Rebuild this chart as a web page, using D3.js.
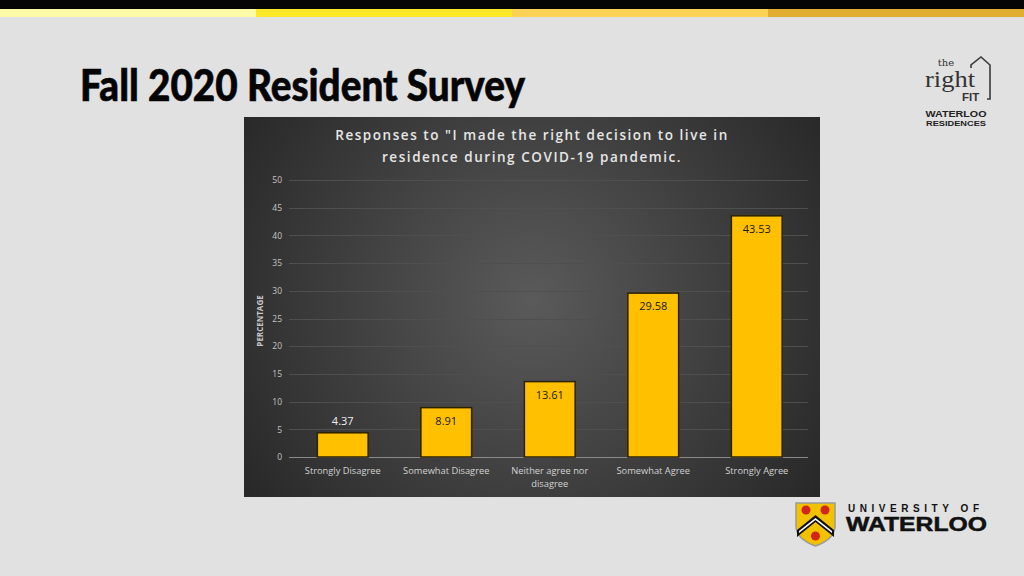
<!DOCTYPE html>
<html><head><meta charset="utf-8">
<script src="https://cdn.jsdelivr.net/npm/d3@7"></script>
<style>html,body{margin:0;padding:0;background:#e1e1e1;}svg{display:block;}</style>
</head><body>
<svg id="c" width="1024" height="576"></svg>
<script>
const categories = ["Strongly Disagree","Somewhat Disagree","Neither agree nor disagree","Somewhat Agree","Strongly Agree"];
const values = [4.37, 8.91, 13.61, 29.58, 43.53];
const yTicks = [0,5,10,15,20,25,30,35,40,45,50];
const chartTitle = ['Responses to "I made the right decision to live in','residence during COVID-19 pandemic.'];

const svg = d3.select("#c");
svg.append("rect").attr("width",1024).attr("height",576).attr("fill","#e1e1e1");
// top band
svg.append("rect").attr("x",0).attr("y",0).attr("width",1024).attr("height",9).attr("fill","#050505");
const stripCols = ["#fdfaa8","#fde829","#fdd155","#e2ae31"];
stripCols.forEach((c,i)=>svg.append("rect").attr("x",i*256).attr("y",9).attr("width",256).attr("height",8).attr("fill",c));

// main title
svg.append("text").attr("x",80).attr("y",101).attr("font-family","Lato,'DejaVu Sans',sans-serif")
  .attr("font-weight",900).attr("font-size",43).attr("fill","#050505").attr("stroke","#050505").attr("stroke-width",0.6)
  .attr("textLength",445).attr("lengthAdjust","spacingAndGlyphs").text("Fall 2020 Resident Survey");

// chart panel
const defs = svg.append("defs");
const rg = defs.append("radialGradient").attr("id","bg").attr("gradientUnits","userSpaceOnUse")
  .attr("cx",532).attr("cy",300).attr("r",360);
rg.append("stop").attr("offset","0%").attr("stop-color","#5a5a5a");
rg.append("stop").attr("offset","100%").attr("stop-color","#262626");
svg.append("rect").attr("x",244).attr("y",117).attr("width",576).attr("height",380).attr("fill","url(#bg)");

const x = d3.scaleBand().domain(categories).range([291,808.5]).paddingInner(0.5).paddingOuter(0.25);
const y = d3.scaleLinear().domain([0,50]).range([457,180]);

// title
const tt = svg.append("text").attr("text-anchor","middle").attr("font-family","'Open Sans',sans-serif")
  .attr("font-size",13.5).attr("font-weight",600).attr("fill","#e6e6e6").attr("letter-spacing",1.55);
chartTitle.forEach((l,i)=>tt.append("tspan").attr("x",532).attr("y",140+i*22).text(l));

// grid
const g = svg.append("g");
g.selectAll("line.grid").data(yTicks).join("line").attr("class","grid")
  .attr("x1",289).attr("x2",808).attr("y1",d=>Math.round(y(d))+0.5).attr("y2",d=>Math.round(y(d))+0.5)
  .attr("stroke",d=>d===0?"#8a8a8a":"#4f4f4f").attr("stroke-width",1);

const yAxis = d3.axisLeft(y).tickValues(yTicks).tickSize(0).tickPadding(0);
const ya = svg.append("g").attr("transform","translate(282,0)").call(yAxis);
ya.select(".domain").remove();
ya.selectAll("text").attr("font-family","'Open Sans',sans-serif").attr("font-size",8.5).attr("fill","#c4c4c4");

// y label
svg.append("text").attr("transform","translate(263,321) rotate(-90)").attr("text-anchor","middle")
  .attr("font-family","'Open Sans',sans-serif").attr("font-weight",700).attr("font-size",8).attr("fill","#c8c8c8")
  .text("PERCENTAGE");

// bars
svg.selectAll("rect.bar").data(values).join("rect").attr("class","bar")
  .attr("x",(d,i)=>x(categories[i])+0.5).attr("width",x.bandwidth()-1)
  .attr("y",d=>y(d)).attr("height",d=>y(0)-y(d))
  .attr("fill","#ffc000").attr("stroke","#2b2200").attr("stroke-width",1.5);

// labels
svg.selectAll("text.lbl").data(values).join("text").attr("class","lbl")
  .attr("x",(d,i)=>x(categories[i])+x.bandwidth()/2)
  .attr("y",d=>d<6? y(d)-8 : y(d)+17)
  .attr("text-anchor","middle").attr("font-family","'Open Sans',sans-serif").attr("font-size",11)
  .attr("fill",d=>d<6?"#f0f0f0":"#1a1a1a").text(d=>d.toFixed(2));

// x axis labels
const xAxis = d3.axisBottom(x).tickSize(0).tickPadding(0);
const xa = svg.append("g").attr("transform","translate(0,457)").call(xAxis);
xa.select(".domain").remove();
xa.selectAll("text").attr("font-family","'Open Sans',sans-serif").attr("font-size",9.3).attr("fill","#d2d2d2")
  .each(function(d){
    const t = d3.select(this); t.text(null);
    const lines = d==="Neither agree nor disagree" ? ["Neither agree nor","disagree"] : [d];
    lines.forEach((l,i)=>t.append("tspan").attr("x",0).attr("y",17+i*13).text(l));
  }).attr("dy",null);

// The Right Fit logo
const lg = svg.append("g");
lg.append("path").attr("d","M971,68 L971,65 L981,57 L990,65 L990,99 L987,99").attr("fill","none").attr("stroke","#3a3a3a").attr("stroke-width",1.6);
lg.append("text").attr("x",946).attr("y",66).attr("text-anchor","middle").attr("font-family","'DejaVu Serif','Liberation Serif',serif").attr("font-size",10).attr("fill","#333").text("the");
lg.append("text").attr("x",925).attr("y",87).attr("font-family","'Liberation Serif','DejaVu Serif',serif").attr("font-size",23).attr("fill","#333").attr("textLength",50).attr("lengthAdjust","spacingAndGlyphs").text("right");
lg.append("text").attr("x",962).attr("y",101).attr("font-family","'Liberation Sans',sans-serif").attr("font-weight","bold").attr("font-size",11.5).attr("fill","#333").text("FIT");
lg.append("text").attr("x",956).attr("y",117).attr("text-anchor","middle").attr("font-family","'Liberation Sans',sans-serif").attr("font-weight","bold").attr("font-size",8.5).attr("fill","#222").attr("textLength",61).attr("lengthAdjust","spacingAndGlyphs").text("WATERLOO");
lg.append("text").attr("x",956).attr("y",126).attr("text-anchor","middle").attr("font-family","'Liberation Sans',sans-serif").attr("font-weight","bold").attr("font-size",7.5).attr("fill","#222").attr("textLength",60).attr("lengthAdjust","spacingAndGlyphs").text("RESIDENCES");

// UW logo
const uw = svg.append("g");
uw.append("path").attr("d","M796,503 L835,503 L835,526 Q835,539 815.5,546 Q796,539 796,526 Z").attr("fill","#f2c200").attr("stroke","#9a9a9a").attr("stroke-width",1.5);
uw.append("path").attr("d","M797,530 L815.5,515 L834,530 L834,537 L815.5,522 L797,537 Z").attr("fill","#111");
uw.append("path").attr("d","M799,531 L815.5,518 L832,531 L832,533 L815.5,520 L799,533 Z").attr("fill","#fff");
[[806,510],[825,510],[815.5,536]].forEach(p=>uw.append("circle").attr("cx",p[0]).attr("cy",p[1]).attr("r",4.5).attr("fill","#d2261c"));
uw.append("text").attr("x",848).attr("y",512).attr("font-family","'Liberation Sans',sans-serif").attr("font-weight","bold").attr("font-size",10).attr("fill","#111").attr("textLength",131).attr("lengthAdjust","spacing").text("UNIVERSITY OF");
uw.append("text").attr("x",846).attr("y",531).attr("font-family","'Liberation Sans',sans-serif").attr("font-weight","900").attr("font-size",19.5).attr("fill","#111").attr("stroke","#111").attr("stroke-width",0.5).attr("textLength",141).attr("lengthAdjust","spacingAndGlyphs").text("WATERLOO");
</script>
</body></html>
